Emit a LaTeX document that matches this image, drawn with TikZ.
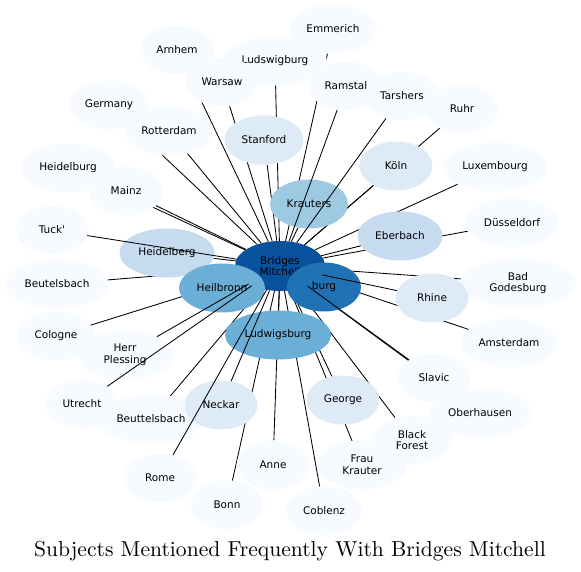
\documentclass[tikz,border=0pt]{standalone}
\usepackage{fontspec}
\usepackage{xcolor}
\usepackage{tikz}
\usetikzlibrary{shapes.geometric}
\newfontfamily\bubfont{DejaVu Sans}
\newfontfamily\titlefont{lmroman10-regular}[Extension=.otf]

\definecolor{blue0}{HTML}{F7FBFF}
\definecolor{blue1}{HTML}{DEEBF7}
\definecolor{blue2}{HTML}{C6DBEF}
\definecolor{blue3}{HTML}{9ECAE1}
\definecolor{blue4}{HTML}{6BAED6}
\definecolor{blue5}{HTML}{2171B5}
\definecolor{blue6}{HTML}{08519C}

\begin{document}
\begin{tikzpicture}[
  x=1pt, y=-1pt,
  bub/.style={ellipse, inner sep=0pt, minimum height=49pt, minimum width=73pt, align=center, font=\bubfont\fontsize{10.5}{11.7}\selectfont},
  t0/.style={bub, fill=blue0}, t1/.style={bub, fill=blue1}, t2/.style={bub, fill=blue2},
  t3/.style={bub, fill=blue3}, t4/.style={bub, fill=blue4}, t5/.style={bub, fill=blue5},
  hubbox/.style={bub, fill=blue6, minimum width=90pt, minimum height=50pt},
  link/.style={line width=0.85pt, black},
  title/.style={anchor=base, font=\titlefont\fontsize{21.6}{24}\selectfont}]
  \useasboundingbox (0,0) rectangle (581,572);
  % positions first, everything is drawn later in layers
  \path (280,266) coordinate (c-hub);
  \node[hubbox, fill=none] (hub) at (c-hub) {\phantom{Bridges}\\\phantom{Mitchell}};
  \path (177,50) node[bub] (arnhem) {} (275,61) node[bub, minimum width=104pt] (ludswigburg) {}
        (222,82) node[bub] (warsaw) {} (333,29) node[bub, minimum width=86pt] (emmerich) {}
        (346,86) node[bub, minimum width=74pt] (ramstal) {} (402,96) node[bub, minimum width=75pt] (tarshers) {}
        (462,109) node[bub, minimum width=71pt] (ruhr) {} (109,105) node[bub, minimum width=80pt] (germany) {}
        (169,131) node[bub, minimum width=89pt] (rotterdam) {} (264,140) node[bub, minimum width=79pt] (stanford) {}
        (396,166) node[bub] (koeln) {} (495,167) node[bub, minimum width=104pt] (luxembourg) {}
        (68,168) node[bub, minimum width=94pt] (heidelburg) {} (126,191) node[bub] (mainz) {}
        (309,204) node[bub, minimum width=78pt] (krauters) {} (400,236) node[bub, minimum width=85pt] (eberbach) {}
        (512,223) node[bub, minimum width=93pt] (duesseldorf) {} (52,230) node[bub, minimum width=72pt] (tuck) {}
        (167,253) node[bub, minimum width=95pt] (heidelberg) {} (57,284) node[bub, minimum width=103pt] (beutelsbach) {}
        (222,288) node[bub, minimum width=86pt] (heilbronn) {} (324,287) node[bub, minimum width=74pt] (burg) {}
        (518,283) node[bub, minimum width=116pt] (badgodesburg) {} (432,298) node[bub] (rhine) {}
        (509,343) node[bub, minimum width=96pt] (amsterdam) {} (56,336) node[bub, minimum width=76pt] (cologne) {}
        (278,335) node[bub, minimum width=106pt] (ludwigsburg) {} (125,355) node[bub, minimum width=95pt] (plessing) {}
        (434,378) node[bub] (slavic) {} (82,404) node[bub, minimum width=72pt] (utrecht) {}
        (151,419) node[bub, minimum width=106pt] (beuttelsbach) {} (221,405) node[bub] (neckar) {}
        (343,400) node[bub] (george) {} (480,413) node[bub, minimum width=103pt] (oberhausen) {}
        (412,440) node[bub, minimum width=80pt] (blackforest) {} (362,465) node[bub, minimum width=90pt] (fraukrauter) {}
        (273,465) node[bub] (anne) {} (160,478) node[bub] (rome) {}
        (227,505) node[bub] (bonn) {} (324,511) node[bub, minimum width=76pt] (coblenz) {};
  % links that lie under the bubbles
  \foreach \to in {arnhem, warsaw, ludswigburg, emmerich, germany, rotterdam, stanford, heidelburg, mainz,
      heidelberg, beutelsbach, cologne, krauters, koeln, ruhr, luxembourg, eberbach, duesseldorf,
      badgodesburg, amsterdam, oberhausen, george, fraukrauter, blackforest, coblenz, anne, bonn,
      beuttelsbach, ludwigsburg}
    \draw[link] (hub) -- (\to);
  % pale bubbles
  \node[t0, minimum width=104pt] at (ludswigburg) {Ludswigburg};
  \node[t0] at (arnhem) {Arnhem};
  \node[t0] at (warsaw) {Warsaw};
  \node[t0, minimum width=86pt] at (emmerich) {Emmerich};
  \node[t0, minimum width=74pt] at (ramstal) {Ramstal};
  \node[t0, minimum width=75pt] at (tarshers) {Tarshers};
  \node[t0, minimum width=71pt] at (ruhr) {Ruhr};
  \node[t0, minimum width=80pt] at (germany) {Germany};
  \node[t0, minimum width=89pt] at (rotterdam) {Rotterdam};
  \node[t0, minimum width=104pt] at (luxembourg) {Luxembourg};
  \node[t0, minimum width=94pt] at (heidelburg) {Heidelburg};
  \node[t0] at (mainz) {Mainz};
  \node[t0, minimum width=93pt] at (duesseldorf) {Düsseldorf};
  \node[t0, minimum width=72pt] at (tuck) {Tuck'};
  \node[t0, minimum width=103pt] at (beutelsbach) {Beutelsbach};
  \node[t0, minimum width=116pt] at (badgodesburg) {Bad\\Godesburg};
  \node[t0, minimum width=96pt] at (amsterdam) {Amsterdam};
  \node[t0, minimum width=76pt] at (cologne) {Cologne};
  \node[t0, minimum width=95pt] at (plessing) {Herr\\Plessing};
  \node[t0, minimum width=103pt] at (oberhausen) {Oberhausen};
  \node[t0] at (slavic) {Slavic};
  \node[t0, minimum width=72pt] at (utrecht) {Utrecht};
  \node[t0, minimum width=106pt] at (beuttelsbach) {Beuttelsbach};
  \node[t0, minimum width=90pt] at (fraukrauter) {Frau\\Krauter};
  \node[t0, minimum width=80pt] at (blackforest) {Black\\Forest};
  \node[t0] at (anne) {Anne};
  \node[t0] at (rome) {Rome};
  \node[t0] at (bonn) {Bonn};
  \node[t0, minimum width=76pt] at (coblenz) {Coblenz};
  % darker bubbles
  \node[t1, minimum width=79pt] at (stanford) {Stanford};
  \node[t1] at (koeln) {Köln};
  \node[t1] at (rhine) {Rhine};
  \node[t1] at (neckar) {Neckar};
  \node[t1] at (george) {George};
  \node[t2, minimum width=95pt] at (heidelberg) {Heidelberg};
  \node[t2, minimum width=85pt] at (eberbach) {Eberbach};
  \node[t3, minimum width=78pt] at (krauters) {Krauters};
  \node[t4, minimum width=106pt] at (ludwigsburg) {Ludwigsburg};
  \node[hubbox] at (hub) {Bridges\\Mitchell};
  \node[t4, minimum width=86pt] at (heilbronn) {Heilbronn};
  \node[t5, minimum width=74pt] at (burg) {burg};
  % links that run over the bubbles
  \foreach \to in {tuck, plessing, utrecht, rhine, slavic, ramstal, tarshers, rome, neckar}
    \draw[link] (hub) -- (\to);
  \node[title] (caption) at (290,556) {Subjects Mentioned Frequently With Bridges Mitchell};
\end{tikzpicture}
\end{document}
